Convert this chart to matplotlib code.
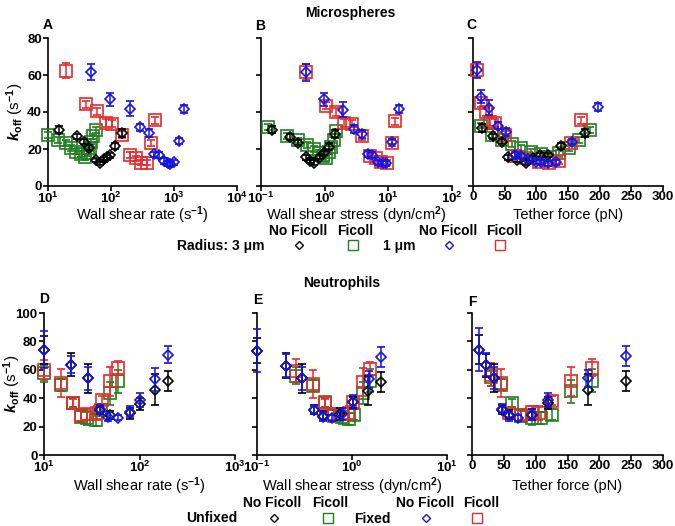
import numpy as np
import matplotlib
matplotlib.use("Agg")
import matplotlib.pyplot as plt
from matplotlib.lines import Line2D
from matplotlib.ticker import FixedLocator, FixedFormatter, NullLocator

plt.rcParams['font.family'] = ['Liberation Sans', 'DejaVu Sans']
plt.rcParams['font.weight'] = 'bold'
plt.rcParams['mathtext.fontset'] = 'custom'
plt.rcParams['mathtext.rm'] = 'Liberation Sans:bold'
plt.rcParams['mathtext.bf'] = 'Liberation Sans:bold'
plt.rcParams['mathtext.it'] = 'Liberation Sans:bold:italic'

# DATA
# --- Microspheres, panel A: wall shear rate (1/s) ---
a_3nf_x = [15, 29, 37, 44.5, 58.5, 66, 76.6, 86.5, 97.6, 117, 150]
a_3nf_y = [30.4, 26.8, 24.0, 20.8, 14.0, 12.6, 14.4, 15.5, 16.6, 21.7, 28.6]
a_3nf_e = [2.0, 1.5, 1.5, 1.5, 1.2, 1.2, 1.2, 1.2, 1.2, 1.8, 2.0]
a_3f_x = [10, 14.4, 19.5, 23.4, 28.2, 33.8, 38, 42.9, 45.7, 48.7, 51.8, 57]
a_3f_y = [27.7, 25.0, 23.1, 20.4, 18.6, 17.3, 15.8, 17.7, 20.4, 24.0, 26.8, 30.4]
a_3f_e = [1.5, 1.5, 1.5, 1.5, 1.5, 1.5, 1.5, 1.5, 1.5, 1.5, 1.5, 1.5]
a_1nf_x = [48.7, 95, 198, 285, 396, 480, 575, 686, 803, 850, 990, 1186, 1442]
a_1nf_y = [61.7, 46.8, 41.7, 31.7, 28.6, 17.1, 16.8, 13.5, 12.2, 11.7, 12.8, 24.4, 41.7]
a_1nf_e = [4.3, 3.5, 4.0, 2.0, 2.0, 1.5, 1.5, 1.5, 1.2, 1.2, 1.2, 1.5, 2.0]
a_1f_x = [19.5, 39.6, 60, 84, 105, 150, 198, 252, 302, 377, 436, 492]
a_1f_y = [62.3, 44.1, 40.4, 34.0, 33.7, 27.7, 16.8, 14.9, 12.6, 12.6, 23.1, 35.5]
a_1f_e = [4.0, 2.0, 2.0, 2.0, 2.0, 2.0, 1.5, 1.5, 1.2, 1.2, 1.5, 2.0]

# --- Microspheres, panel B: wall shear stress (dyn/cm2) ---
b_3nf_x = [0.147, 0.284, 0.383, 0.505, 0.583, 0.68, 0.835, 0.96, 1.17, 1.43]
b_3nf_y = [30.4, 26.4, 23.5, 15.5, 13.7, 12.6, 15.8, 17.7, 21.3, 28.2]
b_3nf_e = [2.0, 1.5, 1.5, 1.2, 1.2, 1.2, 1.2, 1.2, 1.8, 2.0]
b_3f_x = [0.13, 0.252, 0.383, 0.53, 0.68, 0.815, 0.94, 1.06, 1.17, 1.27, 1.40, 1.52]
b_3f_y = [31.9, 27.1, 24.6, 22.2, 20.0, 17.7, 16.4, 14.9, 18.6, 21.3, 25.0, 29.5]
b_3f_e = [1.5, 1.5, 1.5, 1.5, 1.5, 1.5, 1.5, 1.5, 1.5, 1.5, 1.5, 1.5]
b_1nf_x = [0.505, 0.98, 1.93, 2.87, 3.88, 4.75, 5.56, 7.0, 8.2, 9.2, 11.4, 14.5]
b_1nf_y = [61.4, 46.8, 41.3, 30.8, 28.2, 17.3, 16.8, 12.8, 12.2, 12.2, 24.0, 41.7]
b_1nf_e = [4.5, 3.5, 4.0, 2.0, 2.0, 1.5, 1.5, 1.2, 1.2, 1.2, 1.5, 2.0]
b_1f_x = [0.505, 1.04, 1.52, 1.98, 2.7, 3.88, 5.18, 6.3, 7.67, 9.4, 11.4, 12.9]
b_1f_y = [61.7, 43.5, 39.9, 34.0, 33.7, 27.1, 16.4, 14.9, 13.1, 12.6, 23.1, 35.0]
b_1f_e = [4.0, 2.0, 2.0, 2.0, 2.0, 2.0, 1.5, 1.5, 1.2, 1.2, 1.5, 2.0]

# --- Microspheres, panel C: tether force (pN) ---
c_3nf_x = [14, 32, 45, 56, 69, 83, 95, 105, 118, 139, 176.5]
c_3nf_y = [31.3, 26.8, 24.0, 15.5, 14.0, 12.6, 14.9, 16.8, 16.8, 21.7, 28.6]
c_3nf_e = [2.0, 1.5, 1.5, 1.2, 1.2, 1.2, 1.2, 1.2, 1.2, 1.8, 2.0]
c_3f_x = [12.5, 29.7, 45, 61, 76.5, 92, 108, 121, 136, 152, 168, 184]
c_3f_y = [32.6, 27.7, 25.0, 22.8, 20.4, 18.6, 17.3, 15.8, 17.7, 20.4, 25.0, 30.4]
c_3f_e = [1.5, 1.5, 1.5, 1.5, 1.5, 1.5, 1.5, 1.5, 1.5, 1.5, 1.5, 1.5]
c_1nf_x = [6.3, 12.5, 25.5, 40, 51.5, 66, 76.5, 87, 100, 108, 118, 131, 157, 197]
c_1nf_y = [62.7, 48.3, 42.3, 32.6, 29.1, 16.8, 16.4, 14.4, 13.1, 12.8, 12.2, 12.8, 24.0, 42.8]
c_1nf_e = [4.5, 3.5, 4.0, 2.0, 2.0, 1.5, 1.5, 1.5, 1.2, 1.2, 1.2, 1.2, 1.5, 2.0]
c_1f_x = [6.3, 12.5, 20.3, 27, 35, 50.5, 67, 84, 104, 120, 136, 154, 170]
c_1f_y = [62.7, 44.6, 40.0, 34.6, 34.0, 27.7, 16.4, 14.9, 13.1, 12.2, 13.5, 23.1, 35.5]
c_1f_e = [4.0, 2.0, 2.0, 2.0, 2.0, 2.0, 1.5, 1.5, 1.2, 1.2, 1.5, 1.5, 2.0]

# --- Neutrophils, panel D: wall shear rate (1/s) ---
d_unf_x = [10, 19.2, 29.2, 38.6, 49.2, 79.8, 101.6, 146, 198]
d_unf_y = [74.1, 63.5, 54.0, 31.8, 28.2, 29.4, 35.8, 45.9, 52.2]
d_unf_e = [10, 8, 10, 3, 3, 4, 4, 11, 7]
d_uf_x = [10, 15, 20, 24.3, 28.5, 35, 40, 49, 60]
d_uf_y = [57.6, 49.4, 36.9, 27.0, 25.9, 24.7, 31.8, 43.5, 51.8]
d_uf_e = [6, 4, 3, 4, 5, 4, 4, 8, 8]
d_fnf_x = [10, 19.2, 29.2, 38.6, 47, 60, 80, 101, 146, 198]
d_fnf_y = [74.0, 63.5, 54.0, 32.2, 27.0, 26.4, 30.6, 38.8, 53.4, 70.6]
d_fnf_e = [13, 6, 8, 3, 3, 2, 4, 5, 8, 6]
d_ff_x = [10, 15, 20, 24.3, 28.5, 35.6, 40.4, 49, 60]
d_ff_y = [60.0, 50.6, 36.5, 28.2, 28.7, 29.4, 38.8, 51.8, 61.2]
d_ff_e = [7, 10, 3, 4, 4, 5, 3, 10, 5]

# --- Neutrophils, panel E: wall shear stress (dyn/cm2) ---
e_unf_x = [0.1, 0.2, 0.30, 0.40, 0.5, 0.75, 1.02, 1.48, 2.0]
e_unf_y = [73.5, 62.9, 54.0, 31.9, 27.7, 28.9, 37.1, 45.3, 51.2]
e_unf_e = [9, 9, 10, 3, 3, 4, 4, 10, 7]
e_uf_x = [0.26, 0.39, 0.52, 0.64, 0.78, 0.92, 1.04, 1.31, 1.54]
e_uf_y = [55.9, 48.8, 37.1, 27.7, 26.5, 25.4, 28.4, 43.7, 52.3]
e_uf_e = [6, 4, 3, 4, 5, 4, 4, 8, 8]
e_fnf_x = [0.1, 0.2, 0.3, 0.4, 0.5, 0.61, 0.78, 1.02, 1.5, 2.0]
e_fnf_y = [73.5, 62.9, 54.0, 31.7, 27.0, 26.0, 28.9, 37.6, 53.5, 69.2]
e_fnf_e = [15, 8, 8, 3, 3, 2, 4, 5, 6, 7]
e_ff_x = [0.26, 0.39, 0.52, 0.64, 0.78, 0.92, 1.02, 1.31, 1.54]
e_ff_y = [59.4, 50.0, 36.6, 28.9, 28.9, 29.6, 37.6, 51.2, 60.6]
e_ff_e = [8, 10, 3, 4, 4, 5, 3, 10, 5]

# --- Neutrophils, panel F: tether force (pN) ---
f_unf_x = [10.4, 22.3, 34.3, 47.2, 58.6, 95, 119, 181.6, 241.8]
f_unf_y = [74.2, 63.1, 54.2, 31.9, 28.4, 28.4, 36.6, 46.0, 51.9]
f_unf_e = [10, 8, 10, 3, 3, 4, 4, 11, 7]
f_uf_x = [30, 45.7, 62.8, 76.8, 95, 108, 126, 156, 188]
f_uf_y = [54.9, 49.5, 36.6, 27.2, 26.0, 26.0, 28.4, 44.8, 52.3]
f_uf_e = [6, 4, 3, 4, 5, 4, 4, 8, 8]
f_fnf_x = [10.4, 22.3, 34.3, 47.2, 58.6, 71.6, 95, 119, 181.6, 241.8]
f_fnf_y = [74.2, 63.6, 54.2, 32.6, 27.2, 26.0, 28.4, 39.0, 54.2, 69.5]
f_fnf_e = [15, 8, 8, 3, 3, 2, 4, 5, 6, 7]
f_ff_x = [30, 45.7, 58.6, 76.8, 95, 105, 126, 156, 188]
f_ff_y = [56.6, 50.7, 29.6, 28.4, 30.3, 29.6, 38.3, 51.9, 61.3]
f_ff_e = [8, 10, 3, 4, 4, 5, 3, 10, 6]

log_ticks_rate_top = [10, 100, 1000, 10000]
log_labels_rate_top = ['$10^{1}$', '$10^{2}$', '$10^{3}$', '$10^{4}$']
log_ticks_stress_top = [0.1, 1, 10, 100]
log_labels_stress_top = ['$10^{-1}$', '$10^{0}$', '$10^{1}$', '$10^{2}$']
log_ticks_rate_bot = [10, 100, 1000]
log_labels_rate_bot = ['$10^{1}$', '$10^{2}$', '$10^{3}$']
log_ticks_stress_bot = [0.1, 1, 10]
log_labels_stress_bot = ['$10^{-1}$', '$10^{0}$', '$10^{1}$']
force_ticks = [0, 50, 100, 150, 200, 250, 300]

# STYLE
BLACK = '#000000'
GREEN = '#1f7f1f'
BLUE = '#1414e6'
RED = '#e82a2a'
FS_TICK = 9.5
FS_LAB = 10.5
FS = 10

W, H = 675, 526
fig = plt.figure(figsize=(W / 100, H / 100), dpi=100)


def add_ax(x0, x1, ytop, ybot):
    return fig.add_axes([x0 / W, 1 - ybot / H, (x1 - x0) / W, (ybot - ytop) / H])


def style(ax, ylim, yticks, ylabels):
    for s in ['top', 'right']:
        ax.spines[s].set_visible(False)
    for s in ['left', 'bottom']:
        ax.spines[s].set_linewidth(1.2)
    ax.set_ylim(*ylim)
    ax.set_yticks(yticks)
    if ylabels:
        ax.set_yticklabels([str(t) for t in yticks])
    else:
        ax.set_yticklabels([])
    ax.tick_params(direction='out', length=3.5, width=1.2, labelsize=FS_TICK, pad=1)
    ax.tick_params(axis='x', pad=0)
    ax.xaxis.set_minor_locator(NullLocator())
    ax.yaxis.set_minor_locator(NullLocator())


def series(ax, x, y, e, marker, color, ms, z):
    ax.errorbar(x, y, yerr=e, fmt=marker, ms=ms, mfc='none', mec=color,
                mew=1.2, ecolor=color, elinewidth=1.1, capsize=3, capthick=1.1,
                zorder=z, clip_on=False)


def draw(ax, groups, sq_ms, dm_ms):
    (x1, y1, e1), (x2, y2, e2), (x3, y3, e3), (x4, y4, e4) = groups
    series(ax, x2, y2, e2, 's', GREEN, sq_ms, 3)
    series(ax, x4, y4, e4, 's', RED, sq_ms, 4)
    series(ax, x1, y1, e1, 'D', BLACK, dm_ms, 5)
    series(ax, x3, y3, e3, 'D', BLUE, dm_ms, 6)


def log_x(ax, lo, hi, ticks, labels):
    ax.set_xscale('log')
    ax.set_xlim(lo, hi)
    ax.xaxis.set_major_locator(FixedLocator(ticks))
    ax.xaxis.set_major_formatter(FixedFormatter(labels))
    ax.xaxis.set_minor_locator(NullLocator())


def xlab(ax, text, ypos):
    ax.set_xlabel(text, fontsize=FS_LAB)
    ax.xaxis.label.set_va('center')
    ax.xaxis.set_label_coords(0.5, ypos)


def ylab(ax, xpos):
    ax.set_ylabel(r'$k_{\mathrm{off}}$ (s$^{-1}$)', fontsize=FS_LAB + 0.5)
    ax.yaxis.label.set_va('center')
    ax.yaxis.set_label_coords(xpos, 0.5)


TOP_XL = -(215 - 186) / 148
BOT_XL = -(486 - 455) / 142

# ---------- top row: microspheres ----------
axA = add_ax(48, 237, 38, 186)
draw(axA, [(a_3nf_x, a_3nf_y, a_3nf_e), (a_3f_x, a_3f_y, a_3f_e),
           (a_1nf_x, a_1nf_y, a_1nf_e), (a_1f_x, a_1f_y, a_1f_e)], 8, 5)
log_x(axA, 10, 10000, log_ticks_rate_top, log_labels_rate_top)
style(axA, (0, 80), [0, 20, 40, 60, 80], True)
xlab(axA, 'Wall shear rate (s$^{-1}$)', TOP_XL)
ylab(axA, -(48 - 15) / 189)

axB = add_ax(261, 452, 38, 186)
draw(axB, [(b_3nf_x, b_3nf_y, b_3nf_e), (b_3f_x, b_3f_y, b_3f_e),
           (b_1nf_x, b_1nf_y, b_1nf_e), (b_1f_x, b_1f_y, b_1f_e)], 8, 5)
log_x(axB, 0.1, 100, log_ticks_stress_top, log_labels_stress_top)
style(axB, (0, 80), [0, 20, 40, 60, 80], False)
xlab(axB, 'Wall shear stress (dyn/cm$^{2}$)', TOP_XL)

axC = add_ax(473, 663, 38, 186)
draw(axC, [(c_3nf_x, c_3nf_y, c_3nf_e), (c_3f_x, c_3f_y, c_3f_e),
           (c_1nf_x, c_1nf_y, c_1nf_e), (c_1f_x, c_1f_y, c_1f_e)], 8, 5)
axC.set_xlim(0, 300)
axC.set_xticks(force_ticks)
style(axC, (0, 80), [0, 20, 40, 60, 80], False)
xlab(axC, 'Tether force (pN)', TOP_XL)

# ---------- bottom row: neutrophils ----------
axD = add_ax(44, 235, 313, 455)
draw(axD, [(d_unf_x, d_unf_y, d_unf_e), (d_uf_x, d_uf_y, d_uf_e),
           (d_fnf_x, d_fnf_y, d_fnf_e), (d_ff_x, d_ff_y, d_ff_e)], 8, 5.5)
log_x(axD, 10, 1000, log_ticks_rate_bot, log_labels_rate_bot)
style(axD, (0, 100), [0, 20, 40, 60, 80, 100], True)
xlab(axD, 'Wall shear rate (s$^{-1}$)', BOT_XL)
ylab(axD, -(44 - 12) / 191)

axE = add_ax(257, 447, 313, 455)
draw(axE, [(e_unf_x, e_unf_y, e_unf_e), (e_uf_x, e_uf_y, e_uf_e),
           (e_fnf_x, e_fnf_y, e_fnf_e), (e_ff_x, e_ff_y, e_ff_e)], 8, 5.5)
log_x(axE, 0.1, 10, log_ticks_stress_bot, log_labels_stress_bot)
style(axE, (0, 100), [0, 20, 40, 60, 80, 100], False)
xlab(axE, 'Wall shear stress (dyn/cm$^{2}$)', BOT_XL)

axF = add_ax(472, 663, 313, 455)
draw(axF, [(f_unf_x, f_unf_y, f_unf_e), (f_uf_x, f_uf_y, f_uf_e),
           (f_fnf_x, f_fnf_y, f_fnf_e), (f_ff_x, f_ff_y, f_ff_e)], 8, 5.5)
axF.set_xlim(0, 300)
axF.set_xticks(force_ticks)
style(axF, (0, 100), [0, 20, 40, 60, 80, 100], False)
xlab(axF, 'Tether force (pN)', BOT_XL)

# ---------- titles and panel letters ----------
def ftext(x, y, s, **kw):
    fig.text(x / W, 1 - y / H, s, fontsize=kw.pop('fontsize', FS),
             fontweight='bold', va='center', **kw)

ftext(350, 13, 'Microspheres', ha='center')
ftext(342, 283, 'Neutrophils', ha='center')
for letter, (lx, ly) in zip('ABCDEF', [(48, 25), (260, 26), (471, 25),
                                      (44, 299), (258, 300), (472, 302)]):
    ftext(lx, ly, letter, ha='center')

# ---------- legends ----------
def key(x, y, marker, color, ms):
    fig.add_artist(Line2D([x / W], [1 - y / H], transform=fig.transFigure,
                          marker=marker, ms=ms, mfc='none', mec=color, mew=1.0,
                          ls='none'))

ftext(177, 246, 'Radius: 3 μm', ha='left')
ftext(298, 231, 'No Ficoll', ha='center')
ftext(355, 231, 'Ficoll', ha='center')
ftext(399, 246, '1 μm', ha='center')
ftext(448, 231, 'No Ficoll', ha='center')
ftext(504, 231, 'Ficoll', ha='center')
key(299, 245, 'D', BLACK, 4.5)
key(353, 245, 's', GREEN, 7)
key(449, 245, 'D', BLUE, 4.5)
key(500, 245, 's', RED, 7)

ftext(212, 518, 'Unfixed', ha='center')
ftext(272, 503, 'No Ficoll', ha='center')
ftext(330, 503, 'Ficoll', ha='center')
ftext(372, 519, 'Fixed', ha='center')
ftext(425, 503, 'No Ficoll', ha='center')
ftext(481, 503, 'Ficoll', ha='center')
key(274, 518, 'D', BLACK, 4.5)
key(328, 518, 's', GREEN, 7)
key(426, 518, 'D', BLUE, 4.5)
key(477, 518, 's', RED, 7)

fig.savefig('out.png', dpi=100)
